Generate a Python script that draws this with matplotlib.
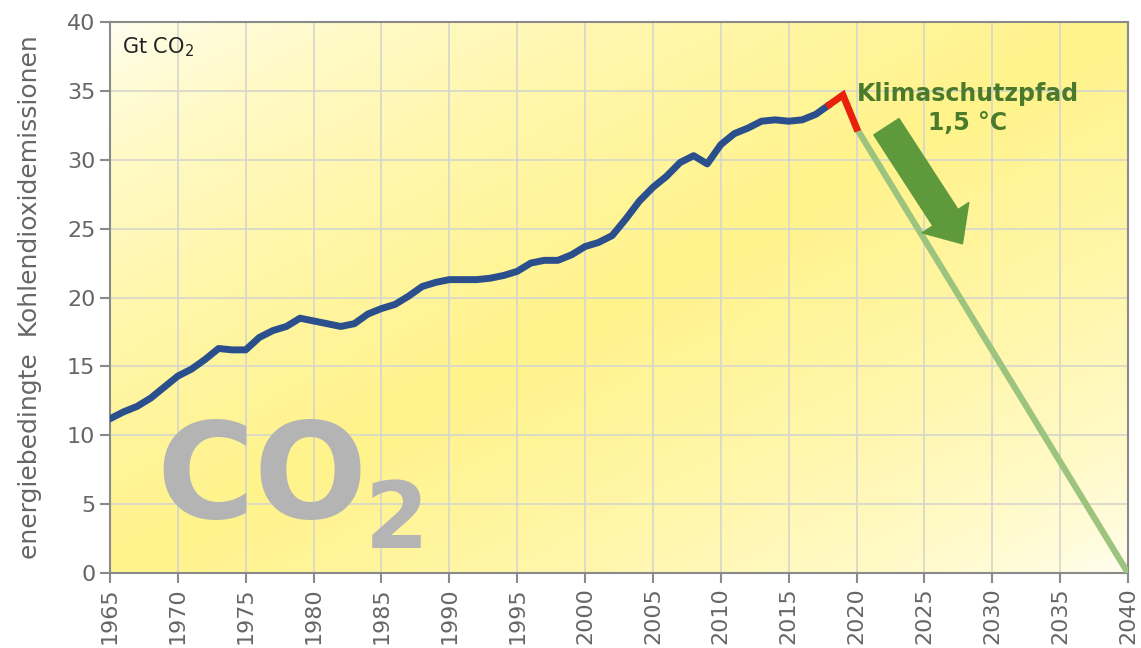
import numpy as np
import matplotlib.pyplot as plt
from matplotlib.patches import FancyArrowPatch
from matplotlib.colors import LinearSegmentedColormap

# energy-related CO2 emissions, Gt
years = list(range(1965, 2019))
emissions = [11.2, 11.7, 12.1, 12.7, 13.5, 14.3, 14.8, 15.5, 16.3, 16.2,
             16.2, 17.1, 17.6, 17.9, 18.5, 18.3, 18.1, 17.9, 18.1, 18.8,
             19.2, 19.5, 20.1, 20.8, 21.1, 21.3, 21.3, 21.3, 21.4, 21.6,
             21.9, 22.5, 22.7, 22.7, 23.1, 23.7, 24.0, 24.5, 25.7, 27.0,
             28.0, 28.8, 29.8, 30.3, 29.7, 31.1, 31.9, 32.3, 32.8, 32.9,
             32.8, 32.9, 33.3, 34.0]
recent_years = [2018, 2019, 2020]
recent_values = [34.0, 34.7, 32.3]
path_years = [2020, 2040]
path_values = [32.3, 0.0]

x_ticks = list(range(1965, 2041, 5))
y_ticks = list(range(0, 41, 5))

fig = plt.figure(figsize=(11.41, 6.48), dpi=100)
ax = fig.add_axes([0.0964, 0.1157, 0.8922, 0.8503])

# diagonal yellow band background (pale top-left and bottom-right)
gx, gy = np.meshgrid(np.linspace(0, 1, 300), np.linspace(0, 1, 200))
t = (gx + gy) / 2
band = np.clip(1 - np.abs(t - 0.5) * 2.0, 0, 1) ** 0.6
cmap = LinearSegmentedColormap.from_list("bg", ["#fffff6", "#fff38c"])
ax.imshow(band, cmap=cmap, extent=[0, 1, 0, 1], transform=ax.transAxes,
          aspect="auto", zorder=0, origin="upper")

ax.set_xlim(1965, 2040)
ax.set_ylim(0, 40)
ax.set_xticks(x_ticks)
ax.set_yticks(y_ticks)
ax.grid(True, color="#d6d6cc", linewidth=1.2, zorder=1)
for s in ax.spines.values():
    s.set_color("#8a8a8a")
    s.set_linewidth(1.5)
ax.tick_params(axis="both", colors="#8a8a8a", labelcolor="#666666",
               labelsize=16, length=7, width=1.5)
ax.tick_params(axis="x", labelrotation=90)
ax.set_ylabel("energiebedingte  Kohlendioxidemissionen", fontsize=18,
              color="#666666", labelpad=18)

ax.plot(years, emissions, color="#2a4f8c", lw=5, zorder=4,
        solid_capstyle="round", solid_joinstyle="round")
ax.plot(recent_years, recent_values, color="#e8200c", lw=5, zorder=4,
        solid_joinstyle="miter")
ax.plot(path_years, path_values, color="#9cc47e", lw=4.5, zorder=3)

ax.text(0.012, 0.975, "Gt CO$_2$", transform=ax.transAxes, fontsize=15,
        color="#222222", va="top", ha="left")

# big watermark
ax.text(0.046, 0.10, "CO", transform=ax.transAxes, fontsize=96,
        fontweight="bold", color="#b4b4b4", zorder=2)
ax.text(0.250, 0.045, "2", transform=ax.transAxes, fontsize=66,
        fontweight="bold", color="#b4b4b4", zorder=2)

ax.text(2028.2, 33.7, "Klimaschutzpfad\n1,5 °C", fontsize=17,
        fontweight="bold", color="#4b7a2c", ha="center", va="center",
        linespacing=1.25, zorder=5)

arrow = FancyArrowPatch((2022.2, 32.4), (2027.8, 23.9),
                        arrowstyle="simple,head_length=1.4,head_width=2.5,tail_width=1.35",
                        mutation_scale=16, color="#5e9a3c", zorder=5,
                        shrinkA=0, shrinkB=0)
ax.add_patch(arrow)

fig.savefig("out.png", dpi=100)
